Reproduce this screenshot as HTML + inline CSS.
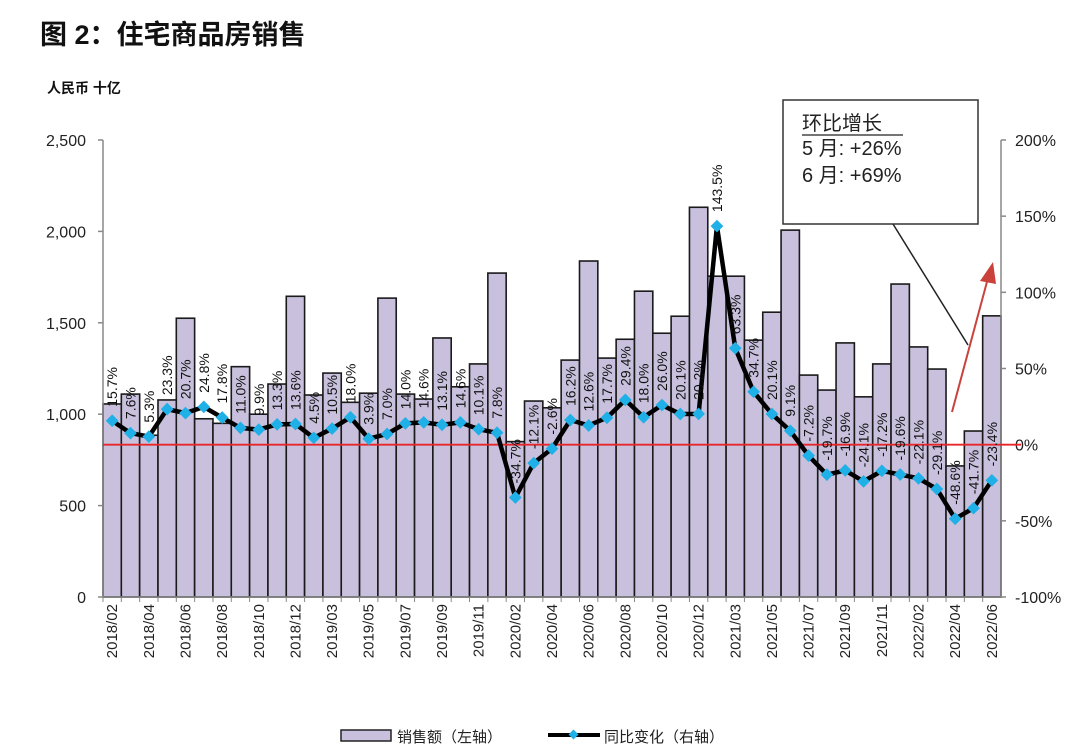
<!DOCTYPE html>
<html><head><meta charset="utf-8"><style>
body{margin:0;background:#fff;}
svg{display:block;font-family:"Liberation Sans","Noto Sans CJK SC",sans-serif;}
</style></head><body>
<svg id="c" width="1080" height="749" viewBox="0 0 1080 749" xmlns="http://www.w3.org/2000/svg">
<text x="40" y="44" font-size="27" font-weight="bold" fill="#111">图 2：住宅商品房销售</text>
<text x="47" y="93" font-size="14" font-weight="bold" fill="#111">人民币 十亿</text>
<g id="bars"></g><g id="axes"></g><g id="line"></g><g id="labels"></g>
<g>
<line x1="893" y1="224" x2="968" y2="345" stroke="#222" stroke-width="1.5"/>
<rect x="783" y="100" width="195" height="124" fill="#fff" stroke="#333" stroke-width="1.5"/>
<text x="802" y="130" font-size="20" fill="#222">环比增长</text>
<line x1="802" y1="135" x2="903" y2="135" stroke="#222" stroke-width="1.2"/>
<text x="802" y="155" font-size="20" fill="#222">5 月: +26%</text>
<text x="802" y="182" font-size="20" fill="#222">6 月: +69%</text>
<line x1="952" y1="412" x2="988" y2="278" stroke="#c9423b" stroke-width="2"/>
<polygon points="993,262 980,281 996,284" fill="#c9423b"/>
</g>
<g>
<rect x="341" y="730" width="50" height="11" fill="#c8c0dc" stroke="#222" stroke-width="1.5"/>
<text x="397" y="742" font-size="15" fill="#222">销售额（左轴）</text>
<line x1="548" y1="735" x2="600" y2="735" stroke="#000" stroke-width="4"/>
<rect x="570" y="731" width="7" height="7" fill="#1eb0e6" transform="rotate(45 573.5 734.5)"/>
<text x="604" y="742" font-size="15" fill="#222">同比变化（右轴）</text>
</g>
</svg>
<script>
const months=["2018/02","2018/03","2018/04","2018/05","2018/06","2018/07","2018/08","2018/09","2018/10","2018/11","2018/12","2019/02","2019/03","2019/04","2019/05","2019/06","2019/07","2019/08","2019/09","2019/10","2019/11","2019/12","2020/02","2020/03","2020/04","2020/05","2020/06","2020/07","2020/08","2020/09","2020/10","2020/11","2020/12","2021/02","2021/03","2021/04","2021/05","2021/06","2021/07","2021/08","2021/09","2021/10","2021/11","2021/12","2022/02","2022/03","2022/04","2022/05","2022/06"];
const sales=[1056,1110,885,1078,1525,975,950,1260,1000,1165,1645,1105,1225,1065,1115,1635,1110,1083,1417,1150,1275,1772,850,1072,1035,1296,1838,1307,1410,1673,1443,1536,2132,1755,1755,1405,1558,2007,1214,1132,1390,1095,1275,1712,1368,1247,717,908,1538];
const yoy=[15.7,7.6,5.3,23.3,20.7,24.8,17.8,11.0,9.9,13.3,13.6,4.5,10.5,18.0,3.9,7.0,14.0,14.6,13.1,14.6,10.1,7.8,-34.7,-12.1,-2.6,16.2,12.6,17.7,29.4,18.0,26.0,20.1,20.2,143.5,63.3,34.7,20.1,9.1,-7.2,-19.7,-16.9,-24.1,-17.2,-19.6,-22.1,-29.1,-48.6,-41.7,-23.4];
const leftTicks=[0,500,1000,1500,2000,2500];
const rightTicks=[-100,-50,0,50,100,150,200];
const NS="http://www.w3.org/2000/svg";
const X0=103,X1=1001,Y0=597,Y1=140;
const step=(X1-X0)/months.length;
const xc=i=>X0+(i+0.5)*step;
const yL=v=>Y0-(v/2500)*(Y0-Y1);
const yR=v=>Y0-((v+100)/300)*(Y0-Y1);
function mk(tag,attrs,parent){const e=document.createElementNS(NS,tag);for(const k in attrs)e.setAttribute(k,attrs[k]);parent.appendChild(e);return e;}
const gB=document.getElementById('bars'),gA=document.getElementById('axes'),gL=document.getElementById('line'),gT=document.getElementById('labels');
sales.forEach((v,i)=>{
  const r=mk('rect',{x:X0+i*step,y:yL(v),width:step,height:Y0-yL(v),fill:'#c8c0dc',stroke:'#1a1a1a','stroke-width':1.6},gB);
  
  
});
let a=mk('line',{x1:X0,y1:Y1,x2:X0,y2:Y0,stroke:'#888','stroke-width':1.5},gA);


a=mk('line',{x1:X1,y1:Y1,x2:X1,y2:Y0,stroke:'#888','stroke-width':1.5},gA);


a=mk('line',{x1:X0,y1:Y0,x2:X1,y2:Y0,stroke:'#888','stroke-width':1.5},gA);


leftTicks.forEach(t=>{
  mk('line',{x1:X0-5,y1:yL(t),x2:X0,y2:yL(t),stroke:'#888','stroke-width':1.5},gA);
  const tx=mk('text',{x:86,y:yL(t)+6,'font-size':16,'text-anchor':'end',fill:'#222'},gA);
  tx.textContent=t.toLocaleString('en-US');
  
  
});
rightTicks.forEach(t=>{
  mk('line',{x1:X1,y1:yR(t),x2:X1+5,y2:yR(t),stroke:'#888','stroke-width':1.5},gA);
  const tx=mk('text',{x:1015,y:yR(t)+6,'font-size':16,fill:'#222'},gA);
  tx.textContent=t+'%';
  
  
});
months.forEach((m,i)=>{
  mk('line',{x1:X0+i*step,y1:Y0,x2:X0+i*step,y2:Y0+5,stroke:'#888','stroke-width':1},gA);
  if(i%2===0){
    const tx=mk('text',{x:0,y:0,'font-size':15,'text-anchor':'end',fill:'#222',transform:`translate(${xc(i)+5},604) rotate(-90)`},gA);
    tx.textContent=m;
    
    
  }
});
const z=mk('line',{x1:X0,y1:yR(0),x2:X1+20,y2:yR(0),stroke:'#e8262a','stroke-width':1.8},gL);


const pl=mk('polyline',{points:yoy.map((v,i)=>xc(i)+','+yR(v)).join(' '),fill:'none',stroke:'#000','stroke-width':4.5,'stroke-linejoin':'round'},gL);


yoy.forEach((v,i)=>{
  const x=xc(i),y=yR(v);
  const p=mk('rect',{x:x-4.5,y:y-4.5,width:9,height:9,fill:'#1eb0e6',transform:`rotate(45 ${x} ${y})`},gL);
  
  
  const tx=mk('text',{x:0,y:0,'font-size':14,'text-anchor':'start',fill:'#111',transform:`translate(${x+5},${y-14}) rotate(-90)`},gT);
  tx.textContent=v.toFixed(1)+'%';
  
  
});
</script>
</body></html>
